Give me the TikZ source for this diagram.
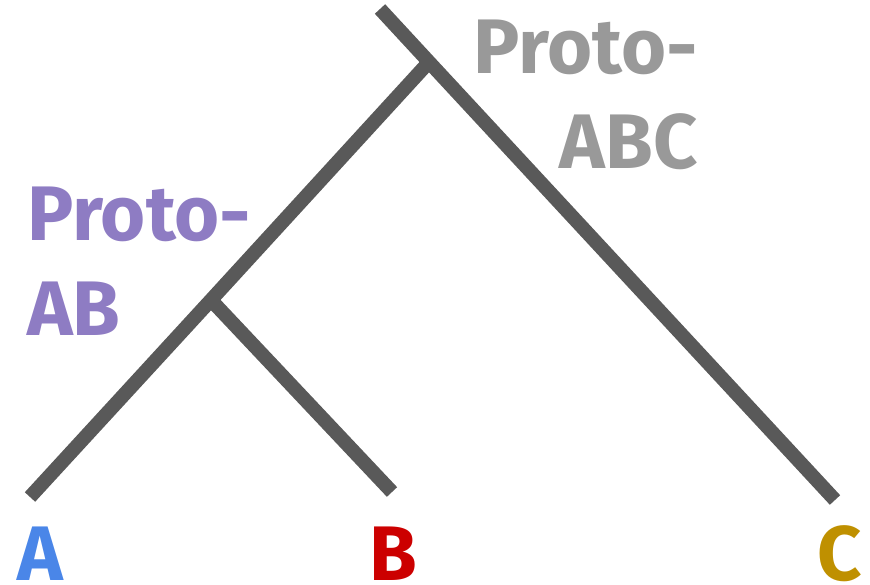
\documentclass[tikz,border=0pt]{standalone}
\usepackage{fontspec}
\setmainfont{Fira Sans}
\usepackage{tikz}
\usetikzlibrary{positioning}
\definecolor{branchgray}{HTML}{595959}
\definecolor{abcgray}{HTML}{999999}
\definecolor{abpurple}{HTML}{8E7CC3}
\definecolor{ablue}{HTML}{4A86E8}
\definecolor{bred}{HTML}{CC0000}
\definecolor{cgold}{HTML}{BF9000}

\begin{document}
\begin{tikzpicture}[branch/.style={draw=branchgray, line width=8pt},
  lbl/.style={font=\bfseries\fontsize{44}{54}\selectfont, inner sep=0pt}]
  \useasboundingbox (0,0) rectangle (17.4,11.68);
  \coordinate (root) at (7.60,11.50);
  \coordinate (abc) at (8.58,10.44);
  \coordinate (ab) at (4.22,5.68);
  \coordinate (a) at (0.60,1.74);
  \coordinate (b) at (7.84,1.84);
  \coordinate (c) at (16.70,1.68);
  \draw[branch] (root) -- (abc) -- (c);
  \draw[branch] (abc) -- (ab) -- (a);
  \draw[branch] (ab) -- (b);
  \node[lbl, text=abcgray, align=right, anchor=north east] (protoabc) at (13.96,11.28) {Proto-\\ABC};
  \node[lbl, text=abpurple, align=left, anchor=north west] (protoab) at (0.54,7.94) {Proto-\\AB};
  \node[lbl, text=ablue, anchor=base] (leafa) at (0.80,0.08) {A};
  \node[lbl, text=bred, anchor=base] (leafb) at (7.86,0.08) {B};
  \node[lbl, text=cgold, anchor=base] (leafc) at (16.80,0.08) {C};
\end{tikzpicture}
\end{document}
